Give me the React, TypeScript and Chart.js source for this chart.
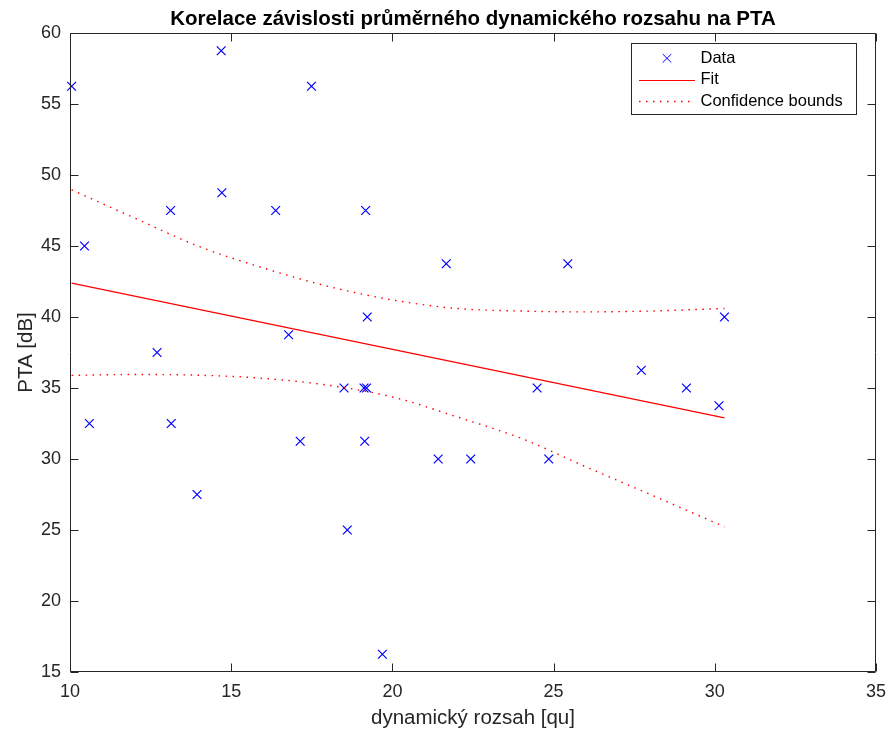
import React, { useEffect, useRef } from "react";
import { Chart, registerables } from "chart.js";

Chart.register(...registerables);

// Measured points: dynamic range [qu] vs. PTA [dB]
const rangeQu = [
  10.05, 14.69, 17.49, 10.45, 13.12, 14.71, 16.38, 19.17, 21.67, 25.44, 16.78,
  12.7, 18.5, 10.6, 13.14, 17.14, 13.94, 19.22, 19.12, 19.2, 24.49, 19.14,
  21.42, 22.43, 24.85, 30.3, 27.72, 29.12, 30.13, 18.6, 19.69,
];
const ptaDb = [
  56.25, 58.75, 56.25, 45, 47.5, 48.75, 47.5, 47.5, 43.75, 43.75, 38.75,
  37.5, 35, 32.5, 32.5, 31.25, 27.5, 40, 35, 35, 35, 31.25,
  30, 30, 30, 40, 36.25, 35, 33.75, 25, 16.25,
];

// Linear fit end points
const fitX = [10.05, 30.3];
const fitY = [42.39, 32.89];

// Confidence bounds sampled along the fitted range
const boundX = [10.05, 12, 14, 16, 18, 20, 22, 24, 26, 28, 30.3];
const upperBound = [48.96, 46.97, 44.97, 43.45, 42.16, 41.2, 40.6, 40.42, 40.36, 40.42, 40.6];
const lowerBound = [35.89, 35.95, 35.9, 35.68, 35.2, 34.37, 32.97, 31.45, 29.45, 27.5, 25.23];

// Axis ticks
const xTicks = [10, 15, 20, 25, 30, 35];
const yTicks = [15, 20, 25, 30, 35, 40, 45, 50, 55, 60];

const TITLE = "Korelace závislosti průměrného dynamického rozsahu na PTA";
const X_LABEL = "dynamický rozsah [qu]";
const Y_LABEL = "PTA [dB]";
const LEGEND_LABELS = ["Data", "Fit", "Confidence bounds"];

const FONT = "'Liberation Sans', Arial, Helvetica, sans-serif";
const AXIS_COLOR = "#262626";
const DATA_COLOR = "#0000ff";
const FIT_COLOR = "#ff0000";
const DOT_DASH = [1.5, 5.5];

const decorations = {
  id: "decorations",
  afterDraw(chart: any) {
    const { ctx, chartArea } = chart;
    const xs = chart.scales.x;
    const ys = chart.scales.y;
    const L = Math.round(chartArea.left) + 0.5;
    const R = Math.round(chartArea.right) - 0.5;
    const T = Math.round(chartArea.top) + 0.5;
    const B = Math.round(chartArea.bottom) - 0.5;
    const tick = 8;

    ctx.save();
    // axes box
    ctx.strokeStyle = AXIS_COLOR;
    ctx.lineWidth = 1;
    ctx.beginPath();
    ctx.rect(L, T, R - L, B - T);
    ctx.stroke();

    // inward tick marks on all four sides
    ctx.beginPath();
    for (const v of xTicks) {
      const px = Math.round(xs.getPixelForValue(v)) + 0.5;
      ctx.moveTo(px, B);
      ctx.lineTo(px, B - tick);
      ctx.moveTo(px, T);
      ctx.lineTo(px, T + tick);
    }
    for (const v of yTicks) {
      const py = Math.round(ys.getPixelForValue(v)) + 0.5;
      ctx.moveTo(L, py);
      ctx.lineTo(L + tick, py);
      ctx.moveTo(R, py);
      ctx.lineTo(R - tick, py);
    }
    ctx.stroke();

    // title
    const cx = (chartArea.left + chartArea.right) / 2;
    ctx.fillStyle = "#000000";
    ctx.font = `bold 20.5px ${FONT}`;
    ctx.textAlign = "center";
    ctx.textBaseline = "alphabetic";
    ctx.fillText(TITLE, cx, 24.5);

    // axis titles
    ctx.fillStyle = AXIS_COLOR;
    ctx.font = `20.5px ${FONT}`;
    ctx.fillText(X_LABEL, cx, 724);
    ctx.save();
    ctx.translate(32, (chartArea.top + chartArea.bottom) / 2);
    ctx.rotate(-Math.PI / 2);
    ctx.fillText(Y_LABEL, 0, 0);
    ctx.restore();

    // legend
    const lx0 = 631.5, ly0 = 43.5, lx1 = 856.5, ly1 = 114.5;
    ctx.fillStyle = "#ffffff";
    ctx.fillRect(lx0, ly0, lx1 - lx0, ly1 - ly0);
    ctx.strokeStyle = AXIS_COLOR;
    ctx.lineWidth = 1;
    ctx.strokeRect(lx0, ly0, lx1 - lx0, ly1 - ly0);

    const rows = [58.3, 79.5, 101.3];
    const sx0 = 639, sx1 = 695, tx = 700.5;

    // data marker
    const mx = (sx0 + sx1) / 2;
    const mr = 4.3;
    ctx.strokeStyle = DATA_COLOR;
    ctx.beginPath();
    ctx.moveTo(mx - mr, rows[0] - mr);
    ctx.lineTo(mx + mr, rows[0] + mr);
    ctx.moveTo(mx - mr, rows[0] + mr);
    ctx.lineTo(mx + mr, rows[0] - mr);
    ctx.stroke();

    // fit line sample
    ctx.strokeStyle = FIT_COLOR;
    ctx.beginPath();
    ctx.moveTo(sx0, Math.round(rows[1]) + 0.5);
    ctx.lineTo(sx1, Math.round(rows[1]) + 0.5);
    ctx.stroke();

    // bounds sample
    ctx.lineWidth = 1.4;
    ctx.setLineDash(DOT_DASH);
    ctx.beginPath();
    ctx.moveTo(sx0, Math.round(rows[2]) + 0.5);
    ctx.lineTo(sx1, Math.round(rows[2]) + 0.5);
    ctx.stroke();
    ctx.setLineDash([]);

    ctx.fillStyle = "#000000";
    ctx.font = `16.5px ${FONT}`;
    ctx.textAlign = "left";
    ctx.textBaseline = "middle";
    LEGEND_LABELS.forEach((label, i) => ctx.fillText(label, tx, rows[i]));

    ctx.restore();
  },
};

export default function App() {
  const canvasRef = useRef<HTMLCanvasElement | null>(null);

  useEffect(() => {
    const canvas = canvasRef.current;
    if (!canvas) return;

    const points = rangeQu.map((x, i) => ({ x, y: ptaDb[i] }));
    const fit = fitX.map((x, i) => ({ x, y: fitY[i] }));
    const upper = boundX.map((x, i) => ({ x, y: upperBound[i] }));
    const lower = boundX.map((x, i) => ({ x, y: lowerBound[i] }));

    const boundStyle = {
      showLine: true,
      borderColor: FIT_COLOR,
      borderWidth: 1.4,
      borderDash: DOT_DASH,
      pointRadius: 0,
      cubicInterpolationMode: "monotone" as const,
      clip: false as const,
    };

    const chart = new Chart(canvas, {
      type: "scatter",
      data: {
        datasets: [
          {
            label: "Confidence bounds",
            data: upper,
            ...boundStyle,
          },
          {
            label: "Confidence bounds",
            data: lower,
            ...boundStyle,
          },
          {
            label: "Fit",
            data: fit,
            showLine: true,
            borderColor: FIT_COLOR,
            borderWidth: 1.2,
            pointRadius: 0,
            clip: false as const,
          },
          {
            label: "Data",
            data: points,
            showLine: false,
            pointStyle: "crossRot",
            pointRadius: 6.2,
            pointBorderWidth: 1.2,
            borderColor: DATA_COLOR,
            backgroundColor: DATA_COLOR,
            clip: false as const,
          },
        ],
      },
      options: {
        responsive: false,
        animation: false,
        events: [],
        layout: { padding: { left: 0, top: 33, right: 15, bottom: 0 } },
        plugins: {
          legend: { display: false },
          title: { display: false },
          tooltip: { enabled: false },
        },
        scales: {
          x: {
            type: "linear",
            min: 10,
            max: 35,
            afterBuildTicks: (scale: any) => {
              scale.ticks = xTicks.map((v) => ({ value: v }));
            },
            afterFit: (scale: any) => {
              scale.height = 65;
            },
            grid: { display: false, drawTicks: false },
            border: { display: false },
            ticks: {
              padding: 9,
              color: AXIS_COLOR,
              font: { family: FONT, size: 18 },
              maxRotation: 0,
            },
          },
          y: {
            type: "linear",
            min: 15,
            max: 60,
            afterBuildTicks: (scale: any) => {
              scale.ticks = yTicks.map((v) => ({ value: v }));
            },
            afterFit: (scale: any) => {
              scale.width = 70;
            },
            grid: { display: false, drawTicks: false },
            border: { display: false },
            ticks: {
              padding: 9,
              color: AXIS_COLOR,
              font: { family: FONT, size: 18 },
            },
          },
        },
      },
      plugins: [decorations],
    });

    return () => chart.destroy();
  }, []);

  return (
    <div style={{ position: "fixed", left: 0, top: 0, width: 895, height: 737, background: "#ffffff" }}>
      <canvas ref={canvasRef} width={895} height={737} style={{ display: "block" }} />
    </div>
  );
}
